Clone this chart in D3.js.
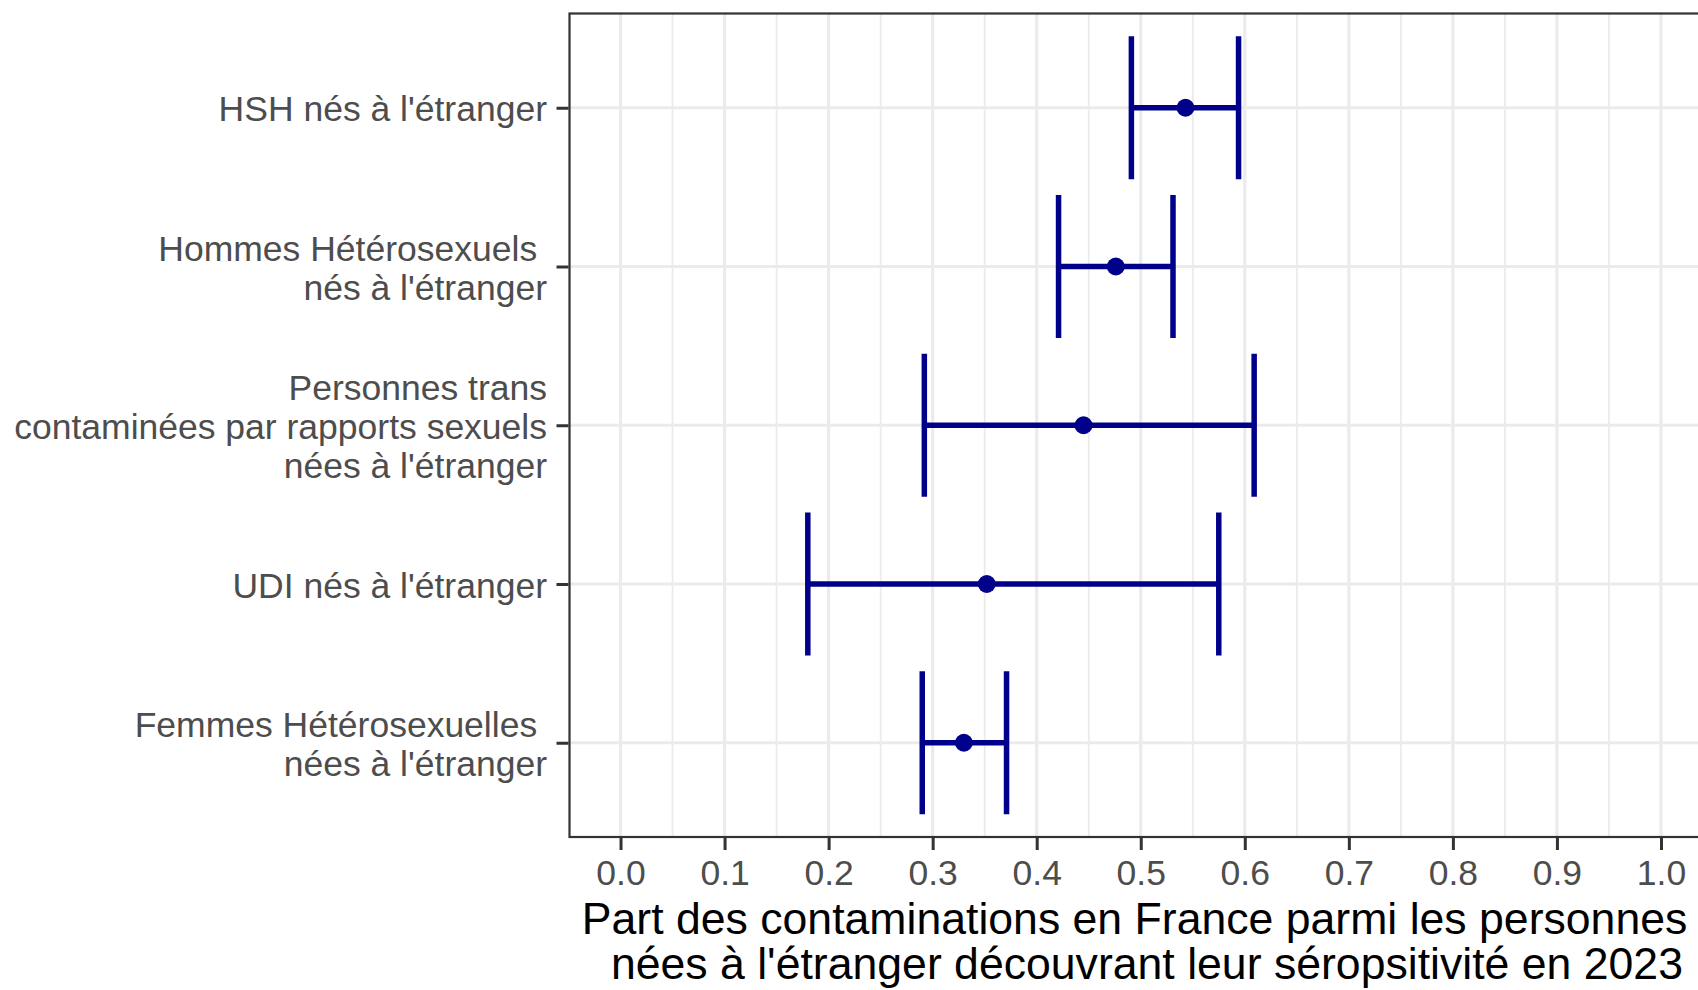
<!DOCTYPE html>
<html>
<head>
<meta charset="utf-8">
<script src="https://cdn.jsdelivr.net/npm/d3@7"></script>
<style>
  html, body { margin: 0; padding: 0; background: #ffffff; overflow: hidden; }
  svg { display: block; }
  text { font-family: "Liberation Sans", Arial, Helvetica, sans-serif; }
</style>
</head>
<body>
<svg id="chart" width="1698" height="990"></svg>
<script>
// ---- Data ----
const categories = [
  "HSH nés à l'étranger",
  "Hommes Hétérosexuels \n nés à l'étranger",
  "Personnes trans\ncontaminées par rapports sexuels\nnées à l'étranger",
  "UDI nés à l'étranger",
  "Femmes Hétérosexuelles \n nées à l'étranger"
];
const estimates = [0.543, 0.476, 0.445, 0.352, 0.330];
const lowerCI   = [0.491, 0.421, 0.292, 0.180, 0.290];
const upperCI   = [0.594, 0.531, 0.609, 0.575, 0.371];
const xTicks    = [0, 0.1, 0.2, 0.3, 0.4, 0.5, 0.6, 0.7, 0.8, 0.9, 1.0];
const xMinor    = [0.05, 0.15, 0.25, 0.35, 0.45, 0.55, 0.65, 0.75, 0.85, 0.95];
const xTitle    = ["Part des contaminations en France parmi les personnes", "nées à l'étranger découvrant leur séropsitivité en 2023"];

// ---- Layout ----
const svg = d3.select("#chart");
const panel = { left: 568.5, top: 12.5, right: 1713, bottom: 838 };
const axisTextSize = 35.5, titleSize = 44.6;
const barColor = "#00008B";

const x = d3.scaleLinear().domain([-0.05, 1.05]).range([panel.left, panel.right]);
const y = d3.scalePoint().domain(categories).range([panel.top, panel.bottom]).padding(0.6);
const step = y.step();

const data = categories.map((c, i) => ({ cat: c, est: estimates[i], lo: lowerCI[i], hi: upperCI[i] }));

// Panel background
svg.append("rect")
  .attr("x", panel.left).attr("y", panel.top)
  .attr("width", panel.right - panel.left).attr("height", panel.bottom - panel.top)
  .attr("fill", "#ffffff");

const grid = svg.append("g");
grid.selectAll("line.minor").data(xMinor).join("line")
  .attr("x1", d => x(d)).attr("x2", d => x(d))
  .attr("y1", panel.top).attr("y2", panel.bottom)
  .attr("stroke", "#EBEBEB").attr("stroke-width", 1.8);
grid.selectAll("line.majorx").data(xTicks).join("line")
  .attr("x1", d => x(d)).attr("x2", d => x(d))
  .attr("y1", panel.top).attr("y2", panel.bottom)
  .attr("stroke", "#EBEBEB").attr("stroke-width", 3.2);
grid.selectAll("line.majory").data(categories).join("line")
  .attr("x1", panel.left).attr("x2", panel.right)
  .attr("y1", d => y(d)).attr("y2", d => y(d))
  .attr("stroke", "#EBEBEB").attr("stroke-width", 3.2);

// ---- Error bars ----
const bars = svg.append("g").attr("stroke", barColor).attr("stroke-width", 5.5).attr("fill", "none");
bars.selectAll("line.h").data(data).join("line")
  .attr("x1", d => x(d.lo)).attr("x2", d => x(d.hi))
  .attr("y1", d => y(d.cat)).attr("y2", d => y(d.cat));
bars.selectAll("line.lo").data(data).join("line")
  .attr("x1", d => x(d.lo)).attr("x2", d => x(d.lo))
  .attr("y1", d => y(d.cat) - 0.45 * step).attr("y2", d => y(d.cat) + 0.45 * step);
bars.selectAll("line.hi").data(data).join("line")
  .attr("x1", d => x(d.hi)).attr("x2", d => x(d.hi))
  .attr("y1", d => y(d.cat) - 0.45 * step).attr("y2", d => y(d.cat) + 0.45 * step);

// points
svg.append("g").selectAll("circle").data(data).join("circle")
  .attr("cx", d => x(d.est)).attr("cy", d => y(d.cat)).attr("r", 9)
  .attr("fill", barColor);

// Panel border
svg.append("rect")
  .attr("x", panel.left + 1).attr("y", panel.top + 1)
  .attr("width", panel.right - panel.left - 2).attr("height", panel.bottom - panel.top - 2)
  .attr("fill", "none").attr("stroke", "#333333").attr("stroke-width", 2.2);

// ---- X axis ----
const xAxis = d3.axisBottom(x).tickValues(xTicks).tickFormat(d3.format(".1f")).tickSize(12).tickPadding(10);
const gx = svg.append("g").attr("transform", `translate(0,${panel.bottom})`).call(xAxis);
gx.select(".domain").remove();
gx.selectAll(".tick line").attr("stroke", "#333333").attr("stroke-width", 3);
gx.selectAll(".tick text")
  .attr("fill", "#4D4D4D").attr("font-size", axisTextSize)
  .attr("font-family", "'Liberation Sans', Arial, sans-serif")
  .attr("dy", null).attr("y", 46.5);

// ---- Y axis ----
const yAxis = d3.axisLeft(y).tickSize(12).tickFormat("");
const gy = svg.append("g").attr("transform", `translate(${panel.left},0)`).call(yAxis);
gy.select(".domain").remove();
gy.selectAll(".tick line").attr("stroke", "#333333").attr("stroke-width", 3);
gy.selectAll(".tick text").remove();

const lineGap = 39;
const capHalf = 0.716 * axisTextSize / 2;
const ylab = svg.append("g");
categories.forEach(c => {
  const lines = c.split("\n");
  const n = lines.length;
  const t = ylab.append("text")
    .attr("text-anchor", "end")
    .attr("font-size", axisTextSize)
    .attr("fill", "#4D4D4D")
    .style("white-space", "pre");
  lines.forEach((ln, i) => {
    t.append("tspan")
      .attr("x", 547)
      .attr("y", y(c) + (i - (n - 1) / 2) * lineGap + capHalf + 1)
      .text(ln);
  });
});

// ---- X title (line 1 had a trailing space, line 2 a leading one: shift by half a space) ----
const cx = (panel.left + panel.right) / 2;
const halfSpace = 0.278 * titleSize / 2;
const tt = svg.append("text")
  .attr("text-anchor", "middle")
  .attr("font-size", titleSize)
  .attr("fill", "#000000");
xTitle.forEach((ln, i) => {
  tt.append("tspan")
    .attr("x", cx + (i === 0 ? -halfSpace : halfSpace))
    .attr("y", 934 + i * 45)
    .text(ln);
});
</script>
</body>
</html>
